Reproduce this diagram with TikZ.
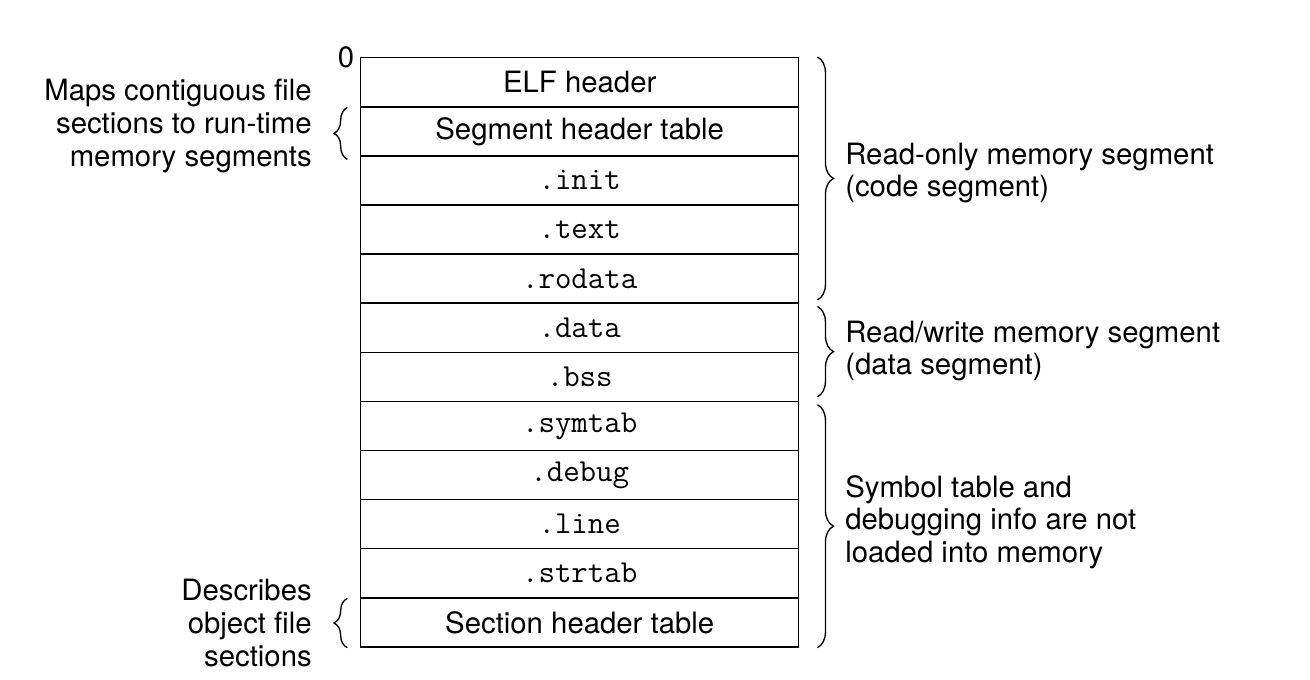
\documentclass[tikz,border=0pt]{standalone}
\usepackage{fontspec}
\setmainfont{TeX Gyre Heros}
\usetikzlibrary{decorations.pathreplacing}
\begin{document}
\begin{tikzpicture}[x=0.75pt,y=-0.75pt,
  cell/.style={draw,line width=1.1pt,minimum width=328.5pt,minimum height=36.8pt,anchor=north west,inner sep=0pt,font=\fontsize{22}{24}\selectfont},
  ttcell/.style={cell,font=\fontsize{24}{26}\ttfamily},
  lbl/.style={font=\fontsize{22}{24.4}\selectfont,inner sep=0pt},
  brc/.style={decorate,decoration={brace,amplitude=12pt},line width=1pt}]
\useasboundingbox (0,0) rectangle (1310,680);
\node[cell]   (r1)  at (360,57.0)  {ELF header};
\node[cell]   (r2)  at (360,106.1) {Segment header table};
\node[ttcell] (r3)  at (360,155.2) {.init};
\node[ttcell] (r4)  at (360,204.3) {.text};
\node[ttcell] (r5)  at (360,253.4) {.rodata};
\node[ttcell] (r6)  at (360,302.5) {.data};
\node[ttcell] (r7)  at (360,351.6) {.bss};
\node[ttcell] (r8)  at (360,400.7) {.symtab};
\node[ttcell] (r9)  at (360,449.8) {.debug};
\node[ttcell] (r10) at (360,498.9) {.line};
\node[ttcell] (r11) at (360,548.0) {.strtab};
\node[cell]   (r12) at (360,597.1) {Section header table};
\node[lbl,anchor=center] (zero) at (346,57) {0};
% right braces
\draw[brc] ([xshift=13.5pt]r1.north east) -- ([xshift=13.5pt,yshift=3pt]r5.south east);
\draw[brc] ([xshift=13.5pt,yshift=-3pt]r6.north east) -- ([xshift=13.5pt,yshift=4pt]r7.south east);
\draw[brc] ([xshift=13.5pt,yshift=-3pt]r8.north east) -- ([xshift=13.5pt]r12.south east);
% left braces
\draw[brc,decoration={amplitude=10pt}] ([xshift=-9.5pt,yshift=-2pt]r2.south west) -- ([xshift=-9.5pt,yshift=-1pt]r2.north west);
\draw[brc,decoration={amplitude=10pt}] ([xshift=-9.5pt]r12.south west) -- ([xshift=-9.5pt,yshift=-1pt]r12.north west);
% labels
\node[lbl,anchor=west,align=left] (ro) at (845,173) {Read-only memory segment\\(code segment)};
\node[lbl,anchor=west,align=left] (rw) at (845,351) {Read/write memory segment\\(data segment)};
\node[lbl,anchor=west,align=left] (sy) at (845,522) {Symbol table and\\debugging info are not\\loaded into memory};
\node[lbl,anchor=east,align=right] (mp) at (312,126) {Maps contiguous file\\sections to run-time\\memory segments};
\node[lbl,anchor=east,align=right] (ds) at (312,623) {Describes\\object file\\sections};
\end{tikzpicture}
\end{document}
